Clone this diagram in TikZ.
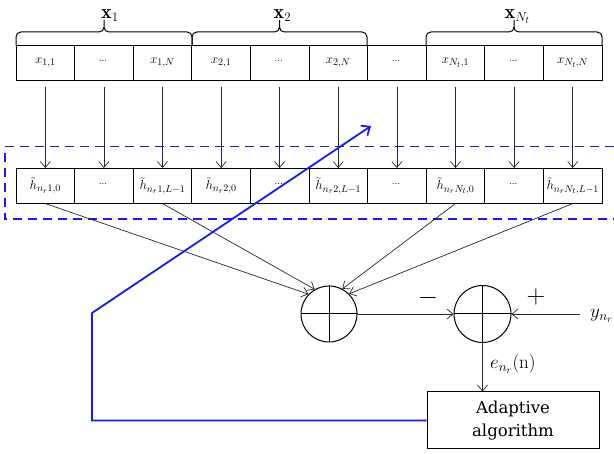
\RequirePackage{fix-cm}
\documentclass[tikz,border=0pt]{standalone}
\usepackage{amsmath}
\usepackage{fontspec}
\newfontfamily\algfont{DejaVu Serif}
\usetikzlibrary{arrows.meta}
\DeclareMathSizes{13}{13}{10}{8}
\DeclareMathSizes{19}{19}{13.5}{10}
\DeclareMathSizes{20}{20}{13}{10}
\definecolor{lineblue}{RGB}{25,25,245}
\newcommand{\celldots}{\smash{\raisebox{-1pt}{$\scriptstyle\cdots$}}}
\newcommand{\topbrace}[2]{%
  \pgfmathsetmacro\bm{(#1+#2)/2}%
  \draw[bracepath] (#1,45.7) -- (#1,37) .. controls (#1,34) and ({#1+2},32) .. ({#1+5},32)
    -- ({\bm-5},32) .. controls ({\bm-2},32) and (\bm,30) .. (\bm,27) -- (\bm,20)
    (\bm,27) .. controls (\bm,30) and ({\bm+2},32) .. ({\bm+5},32)
    -- ({#2-5},32) .. controls ({#2-2},32) and (#2,34) .. (#2,37) -- (#2,45.7);}
\begin{document}
\begin{tikzpicture}[x=1pt,y=-1pt,
  cell/.style={draw, line width=1pt, minimum width=58.6pt, minimum height=34.5pt, inner sep=0pt, font=\fontsize{13}{15}\selectfont},
  arr/.style={-{Straight Barb[length=6pt,width=10pt]}, line width=0.7pt, draw=black!85},
  sumnode/.style={circle, draw, line width=1pt, minimum size=56pt, inner sep=0pt},
  blueline/.style={draw=lineblue, line width=1.8pt},
  bracepath/.style={line width=1pt},
  lbl/.style={anchor=base west, inner sep=0pt}]
\path[use as bounding box] (0,0) rectangle (614,454);

% top row
\foreach \i/\t in {1/{$x_{1,1}$},2/{\celldots},3/{$x_{1,N}$},4/{$x_{2,1}$},5/{\celldots},6/{$x_{2,N}$},7/{\celldots},8/{$x_{N_t,1}$},9/{\celldots},10/{$x_{N_t,N}$}}
  \node[cell] (t\i) at ({16+58.6*(\i-0.5)},62.9) {\t};
% bottom row
\foreach \i/\t in {1/{$\tilde{h}_{n_r1,0}$},2/{\celldots},3/{$\tilde{h}_{n_r1,L-1}$},4/{$\tilde{h}_{n_r2,0}$},5/{\celldots},6/{$\tilde{h}_{n_r2,L-1}$},7/{\celldots},8/{$\tilde{h}_{n_rN_t,0}$},9/{\celldots},10/{$\tilde{h}_{n_rN_t,L-1}$}}
  \node[cell] (h\i) at ({16+58.6*(\i-0.5)},185.8) {\t};

\foreach \i in {1,...,10}
  \draw[arr, shorten <=6.5pt] (t\i.south) -- (h\i.north);

% braces and labels
\topbrace{16}{192}
\topbrace{192}{367}
\topbrace{426}{602}
\node[lbl, font=\fontsize{20}{22}\selectfont] (lx1) at (101,18.3) {$\mathbf{x}_1$};
\node[lbl, font=\fontsize{20}{22}\selectfont] (lx2) at (273.5,18.3) {$\mathbf{x}_2$};
\node[lbl, font=\fontsize{20}{22}\selectfont] (lx3) at (504.5,18.3) {$\mathbf{x}_{N_t}$};

% dashed blue frame
\draw[lineblue, line width=1.6pt, dash pattern=on 9pt off 6pt] (614,146.7) -- (5,146.7) -- (5,219.3) -- (614,219.3);

% summers
\node[sumnode] (s1) at (329,314) {};
\draw[line width=1pt] (s1.north) -- (s1.south) (s1.west) -- (s1.east);
\node[sumnode, minimum size=57pt] (s2) at (482.5,314) {};
\draw[line width=1pt] (s2.north) -- (s2.south) (s2.west) -- (s2.east);

\draw[arr] (h1.south) -- (s1.136);
\draw[arr] (h3.south) -- (s1.120);
\draw[arr] (h8.south) -- (s1.62);
\draw[arr] (h10.south) -- (s1.45);

\draw[arr] (s1.east) -- (s2.west);
\coordinate (yin) at (580,314);
\draw[arr] (yin) -- (s2.east);
\node[lbl, font=\fontsize{19}{21}\selectfont] (ylab) at (590,318) {$y_{n_r}$};
\node[font=\fontsize{26}{28}\selectfont, inner sep=0pt] (minus) at (428,298) {$-$};
\node[font=\fontsize{26}{28}\selectfont, inner sep=0pt] (plus) at (536,297) {$+$};

% adaptive algorithm
\node[draw, line width=1pt, minimum width=172pt, minimum height=57pt, align=center, font=\algfont\fontsize{16.5}{23.5}\selectfont] (alg) at (513,420.5) {Adaptive\\algorithm};
\draw[arr] (s2.south) -- (s2.south |- alg.north);
\node[lbl, font=\fontsize{19}{21}\selectfont] (elab) at (490,369) {$e_{n_r}(\mathrm{n})$};

% blue feedback
\coordinate (b1) at (92,420.5);
\coordinate (b2) at (92,313);
\coordinate (b3) at (371,126);
\draw[blueline, -{Straight Barb[length=7pt,width=12pt]}] (alg.west) -- (b1) -- (b2) -- (b3);
\end{tikzpicture}
\end{document}
